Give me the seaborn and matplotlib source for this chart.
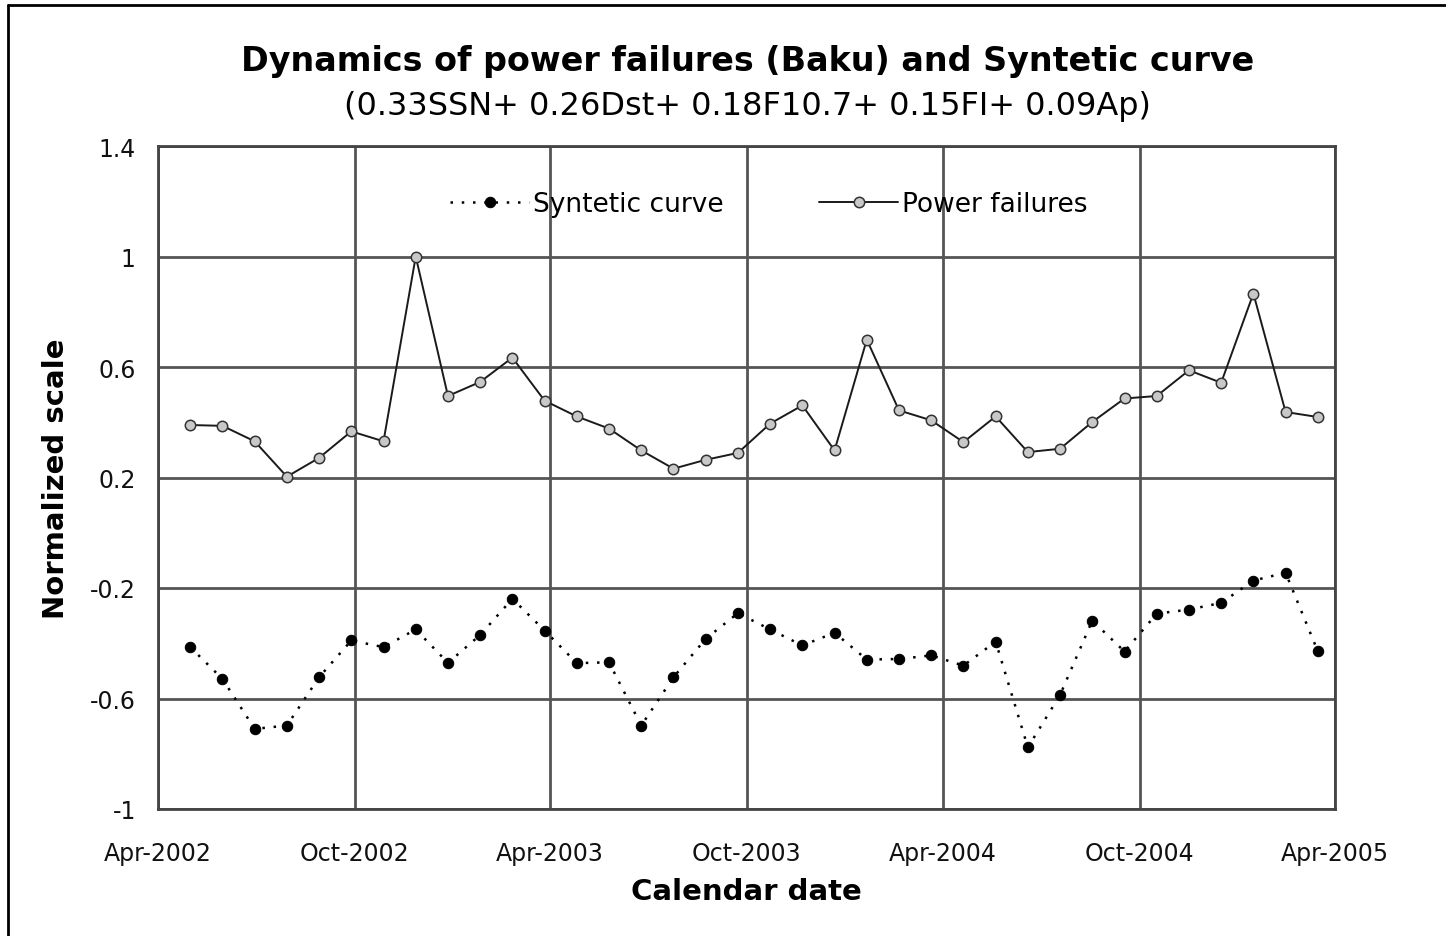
# %%
## LIBRARY
import pandas as pd
import matplotlib.pyplot as plt
import matplotlib.dates as mdates
import seaborn as sns
from matplotlib.lines import Line2D

# %%
## DATA
# observation dates (read off the x position of each marker)
dates = [
    "2002-05-01", "2002-05-31", "2002-06-30", "2002-07-30", "2002-08-29", "2002-09-28",
    "2002-10-28", "2002-11-27", "2002-12-27", "2003-01-26", "2003-02-25", "2003-03-27",
    "2003-04-26", "2003-05-26", "2003-06-25", "2003-07-25", "2003-08-24", "2003-09-23",
    "2003-10-23", "2003-11-22", "2003-12-22", "2004-01-21", "2004-02-20", "2004-03-21",
    "2004-04-20", "2004-05-20", "2004-06-19", "2004-07-19", "2004-08-18", "2004-09-17",
    "2004-10-17", "2004-11-16", "2004-12-16", "2005-01-15", "2005-02-14", "2005-03-16",
]

power_failures = [
    0.39, 0.387, 0.331, 0.203, 0.271, 0.367, 0.331, 1.0, 0.495, 0.546, 0.634, 0.478,
    0.421, 0.377, 0.298, 0.232, 0.264, 0.289, 0.395, 0.461, 0.298, 0.699, 0.443, 0.407,
    0.328, 0.421, 0.292, 0.304, 0.401, 0.486, 0.495, 0.588, 0.543, 0.866, 0.437, 0.419,
]

syntetic_curve = [
    -0.414, -0.529, -0.710, -0.698, -0.523, -0.390, -0.414, -0.350, -0.471, -0.370, -0.239, -0.354,
    -0.472, -0.469, -0.698, -0.523, -0.384, -0.291, -0.350, -0.408, -0.362, -0.459, -0.457, -0.444,
    -0.481, -0.394, -0.777, -0.587, -0.318, -0.430, -0.293, -0.278, -0.254, -0.173, -0.145, -0.429,
]

y_ticks = [-1, -0.6, -0.2, 0.2, 0.6, 1, 1.4]
y_tick_labels = ["-1", "-0.6", "-0.2", "0.2", "0.6", "1", "1.4"]

df = pd.DataFrame({
    "date": pd.to_datetime(dates),
    "Syntetic curve": syntetic_curve,
    "Power failures": power_failures,
})

# %%
## STYLE
sns.set_style("white")
plt.rcParams["font.family"] = ["DejaVu Sans"]
plt.rcParams["axes.unicode_minus"] = False
plt.rcParams["text.color"] = "black"
plt.rcParams["axes.labelcolor"] = "black"

fig = plt.figure(figsize=(14.46, 9.37), dpi=100)
ax = fig.add_axes([158 / 1446, 1 - 810 / 937, (1335 - 158) / 1446, (810 - 147) / 937])

# %%
## PLOT
sns.lineplot(data=df, x="date", y="Syntetic curve", ax=ax, color="black",
             linestyle=(0, (1, 3.5)), linewidth=1.8, marker="o", markersize=7.5,
             markerfacecolor="black", markeredgecolor="black", label="Syntetic curve")
sns.lineplot(data=df, x="date", y="Power failures", ax=ax, color="#1a1a1a",
             linewidth=1.4, marker="o", markersize=7.5,
             markerfacecolor="#c8c8c8", markeredgecolor="#333333", markeredgewidth=1.1,
             label="Power failures")

# axes
ax.set_xlim(pd.Timestamp("2002-04-01"), pd.Timestamp("2005-04-01"))
ax.set_ylim(-1, 1.4)
ax.xaxis.set_major_locator(mdates.MonthLocator(bymonth=[4, 10]))
ax.xaxis.set_major_formatter(mdates.DateFormatter("%b-%Y"))
ax.set_yticks(y_ticks)
ax.set_yticklabels(y_tick_labels)
ax.grid(True, color="#555555", linewidth=2.0)
for s in ax.spines.values():
    s.set_color("#444444")
    s.set_linewidth(2.0)
ax.tick_params(axis="both", direction="out", length=8, width=1.5, color="#333333",
               labelsize=17, labelcolor="#111111", pad=8)
ax.tick_params(axis="x", pad=15)

ax.set_xlabel("Calendar date", fontsize=21, fontweight="bold", labelpad=9)
ax.set_ylabel("Normalized scale", fontsize=21, fontweight="bold", labelpad=14)

leg = ax.legend(loc="center", bbox_to_anchor=(0.519, 0.912), ncol=2, frameon=False,
                fontsize=19, handlelength=3.0, columnspacing=3.6, handletextpad=0.15)

# titles
fig.text(0.517, 1 - 62 / 937, "Dynamics of power failures (Baku) and Syntetic curve",
         ha="center", va="center", fontsize=24, fontweight="bold")
fig.text(0.517, 1 - 106 / 937, "(0.33SSN+ 0.26Dst+ 0.18F10.7+ 0.15FI+ 0.09Ap)",
         ha="center", va="center", fontsize=23)

# outer frame
fig.add_artist(Line2D([8 / 1446, 8 / 1446], [0, 1 - 6 / 937], transform=fig.transFigure,
                      color="black", linewidth=2))
fig.add_artist(Line2D([8 / 1446, 1], [1 - 6 / 937, 1 - 6 / 937], transform=fig.transFigure,
                      color="black", linewidth=2))

plt.savefig("out.png", dpi=100)
